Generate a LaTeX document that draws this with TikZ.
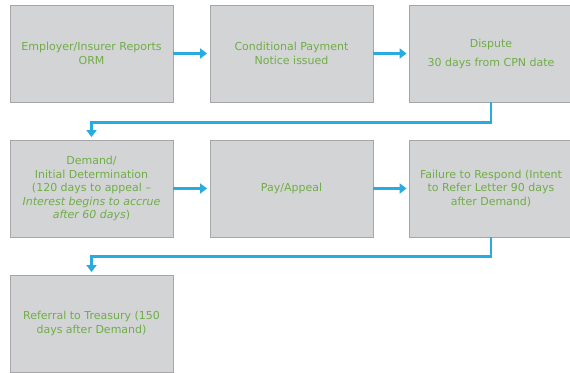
\documentclass[tikz,border=0pt]{standalone}
\usepackage{fontspec}
\setmainfont{DejaVu Sans}
\usepackage{tikz}
\usetikzlibrary{arrows.meta}
\definecolor{step_grey}{RGB}{211, 212, 214}
\definecolor{step_edge}{RGB}{166, 166, 168}
\definecolor{step_text}{RGB}{112, 173, 71}
\definecolor{flow_blue}{RGB}{41, 171, 226}
\tikzstyle{stepbox}=[rectangle,fill=step_grey,draw=step_edge,line width=0.8pt,
  minimum width=163pt,minimum height=97pt,inner sep=2pt,align=center,
  text=step_text,font=\fontsize{11}{13.5}\selectfont]
\tikzstyle{flow}=[draw=flow_blue,line width=2.6pt,
  -{Triangle[width=10pt,length=7pt]},shorten >=2.5pt]

\begin{document}
\begin{tikzpicture}[x=1pt,y=-1pt]
        \useasboundingbox (0,0) rectangle (570,372);
        % first row
        \node[style=stepbox] (orm) at (91.5,53.5) {Employer/Insurer Reports\\ORM};
        \node[style=stepbox] (cpn) at (291.5,53.5) {Conditional Payment\\Notice issued};
        \node[style=stepbox] (dispute) at (491,53.5) {Dispute\\[5.5pt]30 days from CPN date};
        % second row
        \node[style=stepbox] (demand) at (91.5,188.5) {Demand/\\Initial Determination\\(120 days to appeal --\\\textit{Interest begins to accrue}\\\textit{after 60 days})};
        \node[style=stepbox] (pay) at (291.5,188.5) {Pay/Appeal};
        \node[style=stepbox] (fail) at (491,188.5) {Failure to Respond (Intent\\to Refer Letter 90 days\\after Demand)};
        % third row
        \node[style=stepbox] (treasury) at (91.5,323.5) {Referral to Treasury (150\\days after Demand)};
        \draw[style=flow] (orm) to (cpn);
        \draw[style=flow] (cpn) to (dispute);
        \draw[style=flow] (dispute.south) -- +(0,20) -| (demand.north);
        \draw[style=flow] (demand) to (pay);
        \draw[style=flow] (pay) to (fail);
        \draw[style=flow] (fail.south) -- +(0,19) -| (treasury.north);
    \end{tikzpicture}
\end{document}
